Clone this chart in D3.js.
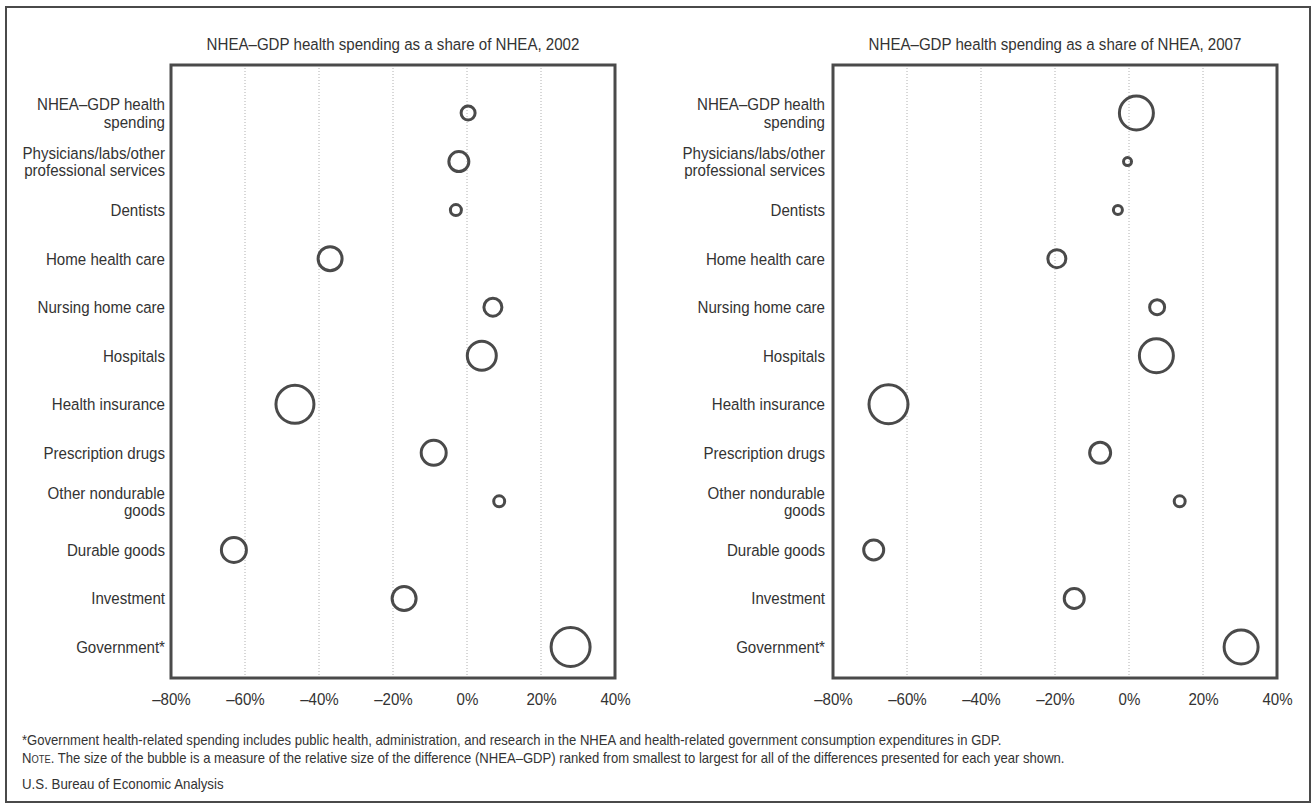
<!DOCTYPE html>
<html>
<head>
<meta charset="utf-8">
<script src="https://cdn.jsdelivr.net/npm/d3@7"></script>
<style>
  html, body { margin: 0; padding: 0; background: #fff; }
  svg { display: block; }
</style>
</head>
<body>
<svg id="chart" width="1313" height="804"></svg>
<script>
// ---------- DATA ----------
const categories = [
  "NHEA–GDP health spending",
  "Physicians/labs/other professional services",
  "Dentists",
  "Home health care",
  "Nursing home care",
  "Hospitals",
  "Health insurance",
  "Prescription drugs",
  "Other nondurable goods",
  "Durable goods",
  "Investment",
  "Government*"
];
const categoryLines = [
  ["NHEA–GDP health", "spending"],
  ["Physicians/labs/other", "professional services"],
  ["Dentists"],
  ["Home health care"],
  ["Nursing home care"],
  ["Hospitals"],
  ["Health insurance"],
  ["Prescription drugs"],
  ["Other nondurable", "goods"],
  ["Durable goods"],
  ["Investment"],
  ["Government*"]
];
// NHEA–GDP difference as a share of NHEA (percent)
const share2002 = [0.3, -2.2, -3, -37, 7, 4, -46.5, -9, 8.7, -63, -17, 28];
const share2007 = [2, -0.4, -3, -19.5, 7.6, 7.4, -65, -7.8, 13.7, -69, -14.8, 30.3];
// relative bubble size (rank of the size of the difference)
const bubble2002 = [17, 23, 14, 27, 21, 32, 41, 28, 14, 28, 27, 42];
const bubble2007 = [37, 11, 12, 21, 18, 37, 42, 24, 14, 23, 23, 37];
const tickValues = [-80, -60, -40, -20, 0, 20, 40];
const panelTitles = [
  "NHEA–GDP health spending as a share of NHEA, 2002",
  "NHEA–GDP health spending as a share of NHEA, 2007"
];
const footnote = "*Government health-related spending includes public health, administration, and research in the NHEA and health-related government consumption expenditures in GDP.";
const noteText = " The size of the bubble is a measure of the relative size of the difference (NHEA–GDP) ranked from smallest to largest for all of the differences presented for each year shown.";
const sourceText = "U.S. Bureau of Economic Analysis";

// ---------- LAYOUT ----------
const FONT = "'Liberation Sans', Arial, Helvetica, sans-serif";
const SX = 0.915;           // horizontal condensing to mimic a narrow face
const INK = "#333";
const FRAME = "#4a4a4a";
const svg = d3.select("#chart");

// condense a text element around its anchor x
function condense(sel, ax, k) {
  sel.attr("transform", `translate(${ax},0) scale(${k},1) translate(${-ax},0)`);
}

svg.append("rect")
  .attr("x", 6).attr("y", 7).attr("width", 1304).attr("height", 795)
  .attr("fill", "#fff").attr("stroke", FRAME).attr("stroke-width", 2);

const panels = [
  { left: 171, right: 615, labelX: 165, values: share2002, sizes: bubble2002, title: panelTitles[0] },
  { left: 833, right: 1277, labelX: 825, values: share2007, sizes: bubble2007, title: panelTitles[1] }
];
const plotTop = 65, plotBottom = 678;

const y = d3.scalePoint().domain(categories).range([113, 647]);
const r = d3.scaleLinear().domain([0, 42]).range([0, 21]);

panels.forEach(p => {
  const x = d3.scaleLinear().domain([-80, 40]).range([p.left, p.right]);
  const g = svg.append("g");

  // title
  const cx = (p.left + p.right) / 2;
  g.append("text")
    .attr("x", cx).attr("y", 50)
    .attr("text-anchor", "middle")
    .attr("font-family", FONT).attr("font-size", 16.5).attr("fill", INK)
    .text(p.title)
    .call(condense, cx, SX);

  // grid lines
  g.append("g").selectAll("line")
    .data(tickValues.slice(1, -1))
    .join("line")
    .attr("x1", d => x(d)).attr("x2", d => x(d))
    .attr("y1", plotTop).attr("y2", plotBottom)
    .attr("stroke", "#b0b0b0").attr("stroke-width", 1)
    .attr("stroke-dasharray", "1,2");

  // axis tick labels
  const axis = d3.axisBottom(x)
    .tickValues(tickValues)
    .tickSize(0)
    .tickPadding(15)
    .tickFormat(d => (d < 0 ? "–" + Math.abs(d) : d) + "%");
  const ax = g.append("g")
    .attr("transform", `translate(0,${plotBottom})`)
    .call(axis);
  ax.select(".domain").remove();
  ax.selectAll("text")
    .attr("font-family", FONT).attr("font-size", 16.5).attr("fill", INK)
    .attr("transform", `scale(${SX},1)`);

  // frame
  g.append("rect")
    .attr("x", p.left).attr("y", plotTop)
    .attr("width", p.right - p.left).attr("height", plotBottom - plotTop)
    .attr("fill", "none").attr("stroke", FRAME).attr("stroke-width", 3);

  // category labels
  const lab = g.append("g").selectAll("text")
    .data(categories)
    .join("text")
    .attr("text-anchor", "end")
    .attr("font-family", FONT).attr("font-size", 16.5).attr("fill", INK)
    .call(condense, p.labelX, SX);
  lab.each(function(d, i) {
    const lines = categoryLines[i];
    const lh = 17.5;
    const t = d3.select(this);
    lines.forEach((ln, k) => {
      t.append("tspan")
        .attr("x", p.labelX)
        .attr("y", y(d) + 6 + (k - (lines.length - 1) / 2) * lh)
        .text(ln);
    });
  });

  // bubbles
  g.append("g").selectAll("circle")
    .data(categories)
    .join("circle")
    .attr("cx", (d, i) => x(p.values[i]))
    .attr("cy", d => y(d))
    .attr("r", (d, i) => r(p.sizes[i]) - 1.5)
    .attr("fill", "none")
    .attr("stroke", FRAME)
    .attr("stroke-width", 3);
});

// footnotes
const FX = 22;
svg.append("text")
  .attr("x", FX).attr("y", 745)
  .attr("font-family", FONT).attr("font-size", 14).attr("fill", INK)
  .text(footnote)
  .call(condense, FX, 0.935);
const note = svg.append("text")
  .attr("x", FX).attr("y", 763)
  .attr("font-family", FONT).attr("font-size", 14).attr("fill", INK)
  .call(condense, FX, 0.935);
note.append("tspan").text("N");
note.append("tspan").attr("font-size", 10).text("OTE");
note.append("tspan").text(".");
note.append("tspan").text(noteText);
svg.append("text")
  .attr("x", FX).attr("y", 789)
  .attr("font-family", FONT).attr("font-size", 14).attr("fill", INK)
  .text(sourceText)
  .call(condense, FX, 0.95);
</script>
</body>
</html>
